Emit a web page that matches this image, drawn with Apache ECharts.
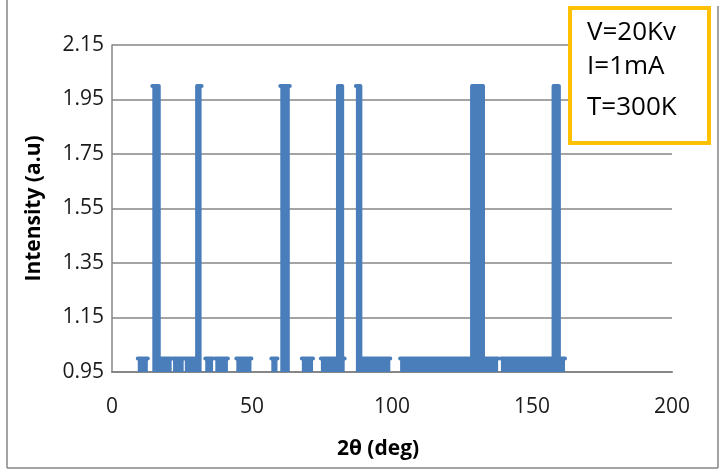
<!DOCTYPE html>
<html>
<head>
<meta charset="utf-8">
<script src="https://cdn.jsdelivr.net/npm/echarts@6/dist/echarts.min.js"></script>
<style>
html,body{margin:0;padding:0;background:#fff;}
#c{width:728px;height:476px;}
</style>
</head>
<body>
<div id="c"></div>
<script>
// 2θ (deg) positions of the trace's vertices (null intensity = break, below the visible range)
const theta = [
  9.2, 12.8, 12.8,
  14.4, 16.7, 16.7, 21.3, 21.3,
  21.8, 25.6, 25.6,
  26.0, 30.4, 30.4, 32.0, 32.0,
  33.3, 36.1, 36.1,
  36.9, 41.4, 41.4,
  44.4, 49.8, 49.8,
  56.9, 59.1, 59.1,
  60.1, 63.5, 63.5,
  67.8, 71.8, 71.8,
  74.6, 80.7, 80.7, 82.2, 82.2, 83.1, 83.1,
  87.1, 88.7, 88.7, 99.4, 99.4,
  102.9, 128.6, 128.6, 132.5, 132.5, 137.9, 137.9,
  138.9, 157.7, 157.7, 159.6, 159.6, 161.8
];
// Intensity (a.u) at those vertices
const intensity = [
  1, 1, null,
  2, 2, 1, 1, null,
  1, 1, null,
  1, 1, 2, 2, null,
  1, 1, null,
  1, 1, null,
  1, 1, null,
  1, 1, null,
  2, 2, null,
  1, 1, null,
  1, 1, 2, 2, 1, 1, null,
  2, 2, 1, 1, null,
  1, 1, 2, 2, 1, 1, null,
  1, 1, 2, 2, 1, 1
];
const xTicks = [0, 50, 100, 150, 200];
const yTicks = [0.95, 1.15, 1.35, 1.55, 1.75, 1.95, 2.15];
const noteLines = ['V=20Kv', 'I=1mA', 'T=300K'];

const yBase = yTicks[0];
const seriesData = theta.map((t, i) => intensity[i] === null ? [t, '-'] : [t, intensity[i] - yBase]);

const FONT = "'Open Sans', 'Liberation Sans', sans-serif";
const BLUE = '#4a7ebb';
const chart = echarts.init(document.getElementById('c'), null, {renderer: 'canvas'});
chart.setOption({
  animation: false,
  backgroundColor: '#fff',
  grid: {left: 112, right: 56, top: 45, bottom: 104},
  xAxis: {
    type: 'value',
    min: xTicks[0], max: xTicks[xTicks.length - 1], interval: xTicks[1] - xTicks[0],
    axisLine: {show: true, lineStyle: {color: '#868686', width: 2}},
    axisTick: {show: false},
    splitLine: {show: false},
    axisLabel: {color: '#1a1a1a', fontSize: 21, fontFamily: FONT, margin: 25},
    name: '2θ (deg)',
    nameLocation: 'middle',
    nameGap: 67,
    nameTextStyle: {color: '#000', fontSize: 21, fontWeight: 'bold', fontFamily: FONT, padding: [0, 28, 0, 0]}
  },
  yAxis: {
    type: 'value',
    min: 0, max: +(yTicks[yTicks.length - 1] - yBase).toFixed(2),
    interval: +(yTicks[1] - yTicks[0]).toFixed(2),
    axisLine: {show: true, lineStyle: {color: '#868686', width: 1.5}},
    axisTick: {show: false},
    splitLine: {show: true, lineStyle: {color: '#868686', width: 1.5}},
    axisLabel: {
      color: '#1a1a1a', fontSize: 21, fontFamily: FONT, margin: 8,
      formatter: v => (v + yBase).toFixed(2)
    },
    name: 'Intensity (a.u)',
    nameLocation: 'middle',
    nameGap: 67,
    nameTextStyle: {color: '#000', fontSize: 21, fontWeight: 'bold', fontFamily: FONT}
  },
  series: [{
    type: 'line',
    data: seriesData,
    showSymbol: false,
    smooth: false,
    connectNulls: false,
    clip: true,
    lineStyle: {color: BLUE, width: 4, cap: 'round', join: 'round'},
    areaStyle: {color: BLUE, opacity: 1, origin: 'start'},
    itemStyle: {color: BLUE}
  }],
  graphic: [
    {type: 'line', shape: {x1: 7, y1: 0, x2: 7, y2: 468}, style: {stroke: '#868686', lineWidth: 1.5}, silent: true},
    {type: 'line', shape: {x1: 718, y1: 6, x2: 718, y2: 468}, style: {stroke: '#868686', lineWidth: 1.5}, silent: true},
    {type: 'line', shape: {x1: 7, y1: 468, x2: 718, y2: 468}, style: {stroke: '#868686', lineWidth: 1.5}, silent: true},
    {type: 'rect', shape: {x: 570, y: 8, width: 139, height: 135}, style: {fill: '#fff', stroke: '#ffc000', lineWidth: 4}, z: 10},
    {type: 'text', left: 587, top: 20, z: 11, style: {text: noteLines[0], font: "26px " + FONT, fill: '#000'}},
    {type: 'text', left: 587, top: 54, z: 11, style: {text: noteLines[1], font: "26px " + FONT, fill: '#000'}},
    {type: 'text', left: 587, top: 95, z: 11, style: {text: noteLines[2], font: "26px " + FONT, fill: '#000'}}
  ]
});
</script>
</body>
</html>
